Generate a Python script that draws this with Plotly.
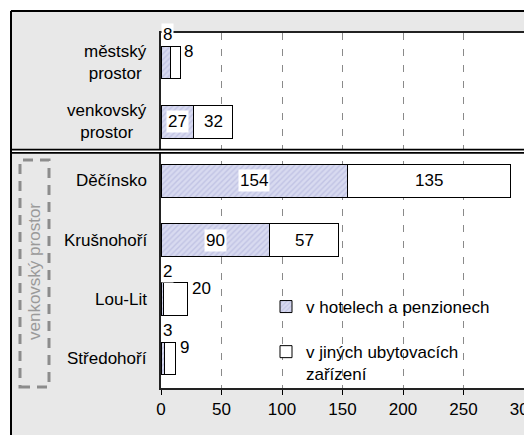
import plotly.graph_objects as go

# ---- data ----
categories = ["městský<br>prostor", "venkovský<br>prostor", "Děčínsko", "Krušnohoří", "Lou-Lit", "Středohoří"]
hotels = [8, 27, 154, 90, 2, 3]
other = [8, 32, 135, 57, 20, 9]
series_names = ["v hotelech a penzionech", "v jiných ubytovacích<br>zařízení"]
x_ticks = [0, 50, 100, 150, 200, 250, 300]
side_label = "venkovský prostor"

# ---- layout geometry (screen pixels; the page body adds an 8px offset) ----
OFF = 8
SW, SH = 532, 435
W, H = SW - OFF, SH - OFF
SL, SR, ST, SB = 161, 524, 33, 388   # plot area in screen px
L, R, T, B = SL - OFF, SR - OFF, ST - OFF, SB - OFF
FONT = "Liberation Sans, Arial, sans-serif"
FS = 17


def px_x(p):  # screen px -> paper x
    return (p - SL) / (SR - SL)


def px_y(p):  # screen px -> paper y
    return (SB - p) / (SB - ST)


ids = list(range(len(categories)))

fig = go.Figure()
fig.add_trace(go.Bar(
    y=ids, x=hotels, orientation="h", name=series_names[0], width=0.55,
    marker=dict(color="#d4d6ee", line=dict(color="black", width=1),
                pattern=dict(shape="/", fgcolor="#a9acd8", bgcolor="#d8daf0", size=4, solidity=0.35)),
    legendgroup="a", hoverinfo="skip",
))
fig.add_trace(go.Bar(
    y=ids, x=other, orientation="h", name=series_names[1], width=0.55,
    marker=dict(color="white", line=dict(color="black", width=1)),
    legendgroup="b", hoverinfo="skip",
))

annotations = []
THR = 25
for i, (h, o) in enumerate(zip(hotels, other)):
    if h >= THR:
        annotations.append(dict(x=h / 2, y=i, xref="x", yref="y", text=str(h), showarrow=False,
                                bgcolor="white", font=dict(size=FS, color="black", family=FONT)))
    else:
        annotations.append(dict(x=0, y=i, xref="x", yref="y", text=str(h), showarrow=False,
                                xanchor="left", xshift=0, yshift=28, bgcolor="white",
                                font=dict(size=FS, color="black", family=FONT)))
    if o >= THR:
        annotations.append(dict(x=h + o / 2, y=i, xref="x", yref="y", text=str(o), showarrow=False,
                                font=dict(size=FS, color="black", family=FONT)))
    else:
        annotations.append(dict(x=h + o, y=i, xref="x", yref="y", text=str(o), showarrow=False,
                                xanchor="left", xshift=2, yshift=11,
                                font=dict(size=FS, color="black", family=FONT)))

# category labels (centered multi-line)
for i, c in enumerate(categories):
    annotations.append(dict(x=px_x(149), y=i, xref="paper", yref="y", text=c, showarrow=False,
                            xanchor="right", yanchor="middle", align="center",
                            font=dict(size=FS, color="black", family=FONT)))

# rotated side label
annotations.append(dict(x=px_x(34), y=px_y(272), xref="paper", yref="paper", text=side_label,
                        showarrow=False, textangle=-90, xanchor="center", yanchor="middle",
                        font=dict(size=FS, color="#9a9a9a", family=FONT)))

shapes = [
    # white margins outside the gray frame
    dict(type="rect", xref="paper", yref="paper", x0=px_x(0), x1=px_x(10), y0=px_y(SH + 5), y1=px_y(0),
         fillcolor="white", line=dict(width=0), layer="below"),
    dict(type="rect", xref="paper", yref="paper", x0=px_x(0), x1=px_x(SW + 5), y0=px_y(10), y1=px_y(0),
         fillcolor="white", line=dict(width=0), layer="below"),
    # frame border
    dict(type="line", xref="paper", yref="paper", x0=px_x(11), x1=px_x(SW + 5), y0=px_y(11), y1=px_y(11),
         line=dict(color="black", width=2), layer="above"),
    dict(type="line", xref="paper", yref="paper", x0=px_x(11), x1=px_x(11), y0=px_y(11), y1=px_y(SH + 5),
         line=dict(color="black", width=2), layer="above"),
    # double separator line
    dict(type="line", xref="paper", yref="y", x0=px_x(11), x1=px_x(SW + 5), y0=1.5, y1=1.5,
         line=dict(color="black", width=5), layer="above"),
    dict(type="line", xref="paper", yref="y", x0=px_x(12), x1=px_x(SW + 5), y0=1.5, y1=1.5,
         line=dict(color="white", width=1.5), layer="above"),
    # dashed box around side label
    dict(type="rect", xref="paper", yref="paper", x0=px_x(20), x1=px_x(49), y0=px_y(387), y1=px_y(160),
         line=dict(color="#8c8c8c", width=3, dash="10px,7px"), fillcolor="rgba(0,0,0,0)", layer="above"),
]

fig.update_layout(
    width=W, height=H,
    margin=dict(l=L, r=W - R, t=T, b=H - B, pad=0, autoexpand=False),
    paper_bgcolor="#e8e8e8", plot_bgcolor="white",
    barmode="stack", bargap=0.45,
    font=dict(family=FONT, size=FS, color="black"),
    showlegend=True,
    legend=dict(x=px_x(266), y=px_y(289), xanchor="left", yanchor="top", valign="top",
                bgcolor="rgba(0,0,0,0)", font=dict(size=FS, family=FONT, color="black"),
                tracegroupgap=20, traceorder="grouped"),
    xaxis=dict(range=[0, 300], tickvals=x_ticks, ticktext=[str(t) for t in x_ticks],
               showgrid=True, gridcolor="#8a8a8a", gridwidth=1, griddash="7px,9px",
               zeroline=False, showline=True, linecolor="#222", linewidth=1.5, mirror=True,
               ticks="outside", ticklen=5, tickcolor="black", ticklabeloverflow="allow",
               tickfont=dict(size=FS, family=FONT)),
    yaxis=dict(range=[5.5, -0.5], tickvals=ids, showticklabels=False, ticks="",
               showgrid=False, zeroline=False, showline=True, linecolor="#222", linewidth=1.5, mirror=True),
    annotations=annotations,
    shapes=shapes,
)

fig.write_html("out.html")
